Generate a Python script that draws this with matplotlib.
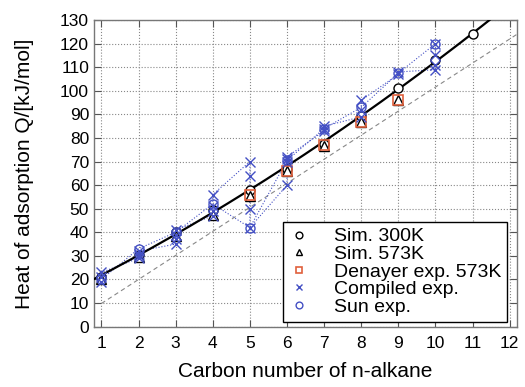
import numpy as np
import matplotlib.pyplot as plt

plt.rcParams['font.family'] = ['Liberation Sans', 'DejaVu Sans']

# Heat of adsorption vs carbon number
carbon = np.arange(1, 12)
sim_300k = [21, 30.5, 40, 49.5, 58, 67, 77.5, 89.5, 101.3, 113, 124]

carbon_573 = np.arange(1, 10)
sim_573k = [20, 29.5, 38.5, 47.5, 55.5, 66, 76.5, 87, 96]

denayer_c = [5, 6, 7, 8, 9]
denayer_q = [56, 66, 77, 87, 96]

# compiled experimental values, several per carbon number
compiled_c = [1, 1, 1, 2, 2, 2, 2, 3, 3, 3, 3, 4, 4, 4, 4,
              5, 5, 5, 5, 6, 6, 6, 6, 7, 7, 7, 8, 8, 8, 9, 9, 10, 10, 10, 10]
compiled_q = [19, 21, 23, 29, 30, 31, 32, 35, 37, 39, 41, 47, 49, 51, 56,
              70, 64, 50, 42, 60, 70, 71, 72, 83, 84, 85, 89, 92, 96, 107, 108, 109, 111, 115, 120]

sun_c = np.arange(1, 11)
sun_q = [20, 33, 40, 52, 42, 70.5, 84, 93, 107.5, 120]

# reference line (dashed)
ref_slope = 10.2
ref_intercept = -0.4

blue = '#4450c4'
red = '#e0603c'

fig = plt.figure(figsize=(5.25, 3.87), dpi=100)
ax = fig.add_axes([0.179, 0.156, 0.806, 0.792])

# smooth fit through the 300K simulation points
coef = np.polyfit(carbon, sim_300k, 2)
xf = np.linspace(0.8, 12.2, 200)
ax.plot(xf, np.polyval(coef, xf), color='black', lw=1.6, zorder=3)

xr = np.linspace(1, 12.2, 50)
ax.plot(xr, ref_slope * xr + ref_intercept, color='#888888', lw=0.8,
        ls=(0, (4, 3)), zorder=2)

ax.plot(compiled_c, compiled_q, color=blue, lw=0.8, ls=':', zorder=2)
ax.plot(sun_c, sun_q, color=blue, lw=0.8, ls=':', zorder=2)

ax.plot(carbon, sim_300k, 'o', ms=6.5, mfc='white', mec='black', mew=1.0,
        label='Sim. 300K', zorder=4)
ax.plot(carbon_573, sim_573k, '^', ms=6.5, mfc='white', mec='black', mew=1.0,
        label='Sim. 573K', zorder=4)
ax.plot(denayer_c, denayer_q, 's', ms=6.5, mfc='none', mec=red, mew=1.2,
        label='Denayer exp. 573K', zorder=5)
ax.plot(compiled_c, compiled_q, 'x', ms=6.5, color=blue, mew=1.0,
        label='Compiled exp.', zorder=6)
ax.plot(sun_c, sun_q, 'o', ms=6.5, mfc='none', mec=blue, mew=1.0,
        label='Sun exp.', zorder=6)

ax.set_xlim(0.8, 12.2)
ax.set_ylim(0, 130)
ax.set_xticks(np.arange(1, 13))
ax.set_yticks(np.arange(0, 131, 10))
ax.grid(True, color='#888888', ls=':', lw=0.8)
ax.set_axisbelow(True)
ax.tick_params(direction='in', top=True, right=True, labelsize=12.5,
               length=5, color='#555555')
ax.tick_params(axis='x', pad=7)
for s in ax.spines.values():
    s.set_color('#777777')
    s.set_linewidth(1.0)

ax.set_xlabel('Carbon number of n-alkane', fontsize=15, labelpad=8)
ax.set_ylabel('Heat of adsorption Q/[kJ/mol]', fontsize=15, labelpad=19)

leg = ax.legend(loc='lower right', bbox_to_anchor=(0.976, 0.016),
                borderaxespad=0, fontsize=14, markerscale=0.75,
                handlelength=1.0, handletextpad=1.3, labelspacing=0.0,
                fancybox=False, framealpha=1, edgecolor='black',
                borderpad=0.3)
leg.get_frame().set_linewidth(1.0)

fig.savefig('out.png', dpi=100)
